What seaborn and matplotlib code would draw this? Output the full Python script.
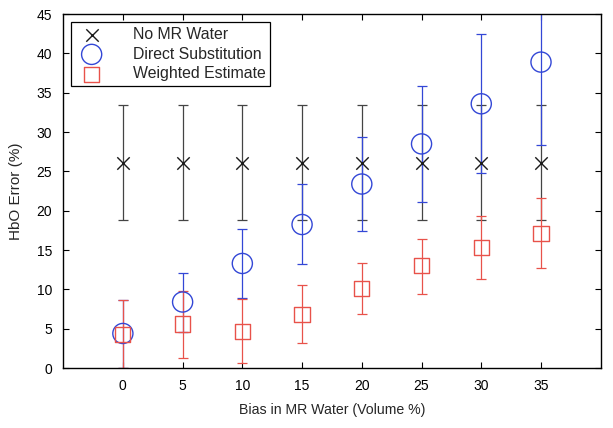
import matplotlib
matplotlib.use("Agg")
import matplotlib.pyplot as plt
import seaborn as sns
import pandas as pd
import numpy as np

bias = [0, 5, 10, 15, 20, 25, 30, 35]

no_mr = [26.1, 26.1, 26.1, 26.1, 26.1, 26.1, 26.1, 26.1]
no_mr_lo = [18.8, 18.8, 18.8, 18.8, 18.8, 18.8, 18.8, 18.8]
no_mr_hi = [33.4, 33.4, 33.4, 33.4, 33.4, 33.4, 33.4, 33.4]

direct = [4.4, 8.4, 13.3, 18.25, 23.4, 28.5, 33.6, 38.9]
direct_lo = [0.0, 4.6, 8.85, 13.25, 17.4, 21.1, 24.8, 28.4]
direct_hi = [8.7, 12.1, 17.7, 23.4, 29.4, 35.8, 42.5, 49.4]

weighted = [4.3, 5.6, 4.7, 6.8, 10.1, 13.0, 15.3, 17.1]
weighted_lo = [0.0, 1.3, 0.7, 3.2, 6.9, 9.45, 11.3, 12.7]
weighted_hi = [8.6, 9.8, 8.8, 10.5, 13.3, 16.4, 19.3, 21.6]

labels = ["No MR Water", "Direct Substitution", "Weighted Estimate"]
colors = ["#1a1a1a", "#3347d6", "#e8524a"]
bar_colors = ["#444444", "#3347d6", "#e8524a"]
markers = ["x", "o", "s"]
sizes = [80, 210, 120]

sns.set_style("ticks")
plt.rcParams["font.family"] = ["Liberation Sans", "DejaVu Sans"]

fig = plt.figure(figsize=(6.13, 4.28), dpi=100)
ax = fig.add_axes([0.103, 0.140, 0.877, 0.827])

series = [(no_mr, no_mr_lo, no_mr_hi), (direct, direct_lo, direct_hi),
          (weighted, weighted_lo, weighted_hi)]

for (vals, lo, hi), lab, c, bc, m, s in zip(series, labels, colors, bar_colors, markers, sizes):
    v = np.array(vals)
    yerr = [v - np.array(lo), np.array(hi) - v]
    ax.errorbar(bias, vals, yerr=yerr, fmt="none", ecolor=bc, elinewidth=0.9,
                capsize=3.5, capthick=0.9, zorder=2)
    df = pd.DataFrame({"x": bias, "y": vals})
    if m == "x":
        sns.scatterplot(data=df, x="x", y="y", marker=m, s=s, color=c,
                        linewidth=1.0, ax=ax, label=lab, zorder=3)
    else:
        sns.scatterplot(data=df, x="x", y="y", marker=m, s=s, facecolors="none",
                        edgecolor=c, linewidth=1.0, ax=ax, label=lab, zorder=3)

ax.set_xlim(-5, 40)
ax.set_ylim(0, 45)
ax.set_xticks(bias)
ax.set_yticks(np.arange(0, 46, 5))
ax.tick_params(direction="in", top=True, right=True, length=4, width=0.8,
               labelsize=10, colors="black", pad=8)
for sp in ax.spines.values():
    sp.set_color("black")
    sp.set_linewidth(1.0)
ax.set_xlabel("Bias in MR Water (Volume %)", fontsize=10.2, labelpad=7)
ax.set_ylabel("HbO Error (%)", fontsize=11, labelpad=10)

leg = ax.legend(loc="upper left", fontsize=11.4, frameon=True, fancybox=False,
                edgecolor="black", framealpha=1, borderaxespad=0.5,
                handletextpad=1.6, borderpad=0.3, labelspacing=0.3, handlelength=2.0)
leg.get_frame().set_linewidth(0.9)

fig.savefig("out.png", dpi=100)
